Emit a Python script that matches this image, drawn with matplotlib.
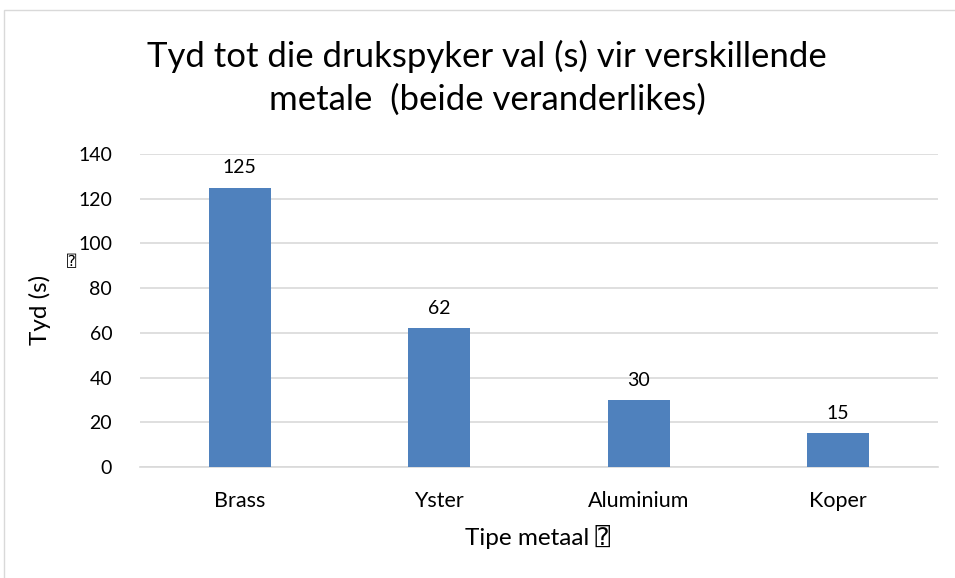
import matplotlib
matplotlib.use("Agg")
import matplotlib.pyplot as plt
from matplotlib.patches import Rectangle

# chart data
metals = ["Brass", "Yster", "Aluminium", "Koper"]
times = [125, 62, 30, 15]
y_ticks = [0, 20, 40, 60, 80, 100, 120, 140]

title = "Tyd tot die drukspyker val (s) vir verskillende\nmetale  (beide veranderlikes)"
x_label = "Tipe metaal"
y_label = "Tyd (s)"
missing_glyph = "\u2370"

bar_color = "#4F81BD"
grid_color = "#D9D9D9"
text_color = "#000000"
fonts = ["Lato", "DejaVu Sans", "DejaVu Sans Mono"]

plt.rcParams["font.family"] = fonts

fig = plt.figure(figsize=(9.55, 5.78), dpi=100)
ax = fig.add_axes([0.1466, 0.192, 0.8354, 0.5416])

x = list(range(len(metals)))
bars = ax.bar(x, times, width=0.31, color=bar_color, zorder=3)
for rect, val in zip(bars, times):
    ax.annotate(str(val), (rect.get_x() + rect.get_width() / 2, val),
                xytext=(0, 8), textcoords="offset points",
                ha="center", va="bottom", fontsize=14, color=text_color)

ax.set_xlim(-0.5, len(metals) - 0.5)
ax.set_ylim(0, 140)
ax.set_yticks(y_ticks)
ax.set_xticks(x)
ax.set_xticklabels(metals)
ax.tick_params(axis="both", length=0, labelsize=14, colors=text_color)
ax.tick_params(axis="x", labelsize=15.5, pad=17)
ax.tick_params(axis="y", pad=20)
ax.grid(axis="y", color=grid_color, linewidth=1.2, zorder=0)
for s in ["top", "right", "left"]:
    ax.spines[s].set_visible(False)
ax.spines["bottom"].set_color(grid_color)
ax.spines["bottom"].set_linewidth(1.2)

# title and axis labels placed in figure pixels
fig.text(487 / 955, 1 - 78 / 578, title, ha="center", va="center",
         fontsize=25, linespacing=1.4, color=text_color)
fig.text(40 / 955, 1 - 310 / 578, y_label, rotation=90, ha="center",
         va="center", fontsize=17.5, color=text_color)
fig.text(72 / 955, 1 - 262 / 578, missing_glyph, ha="center", va="center",
         fontsize=11, color=text_color)
fig.text(538 / 955, 1 - 537 / 578, x_label + " " + missing_glyph,
         ha="center", va="center", fontsize=17.5, color=text_color)

# outer chart border
fig.patches.append(Rectangle((4 / 955, -0.01), 1.0, 1 - 10 / 578 + 0.01,
                             transform=fig.transFigure, fill=False,
                             edgecolor=grid_color, linewidth=1))

fig.savefig("out.png", dpi=100)
